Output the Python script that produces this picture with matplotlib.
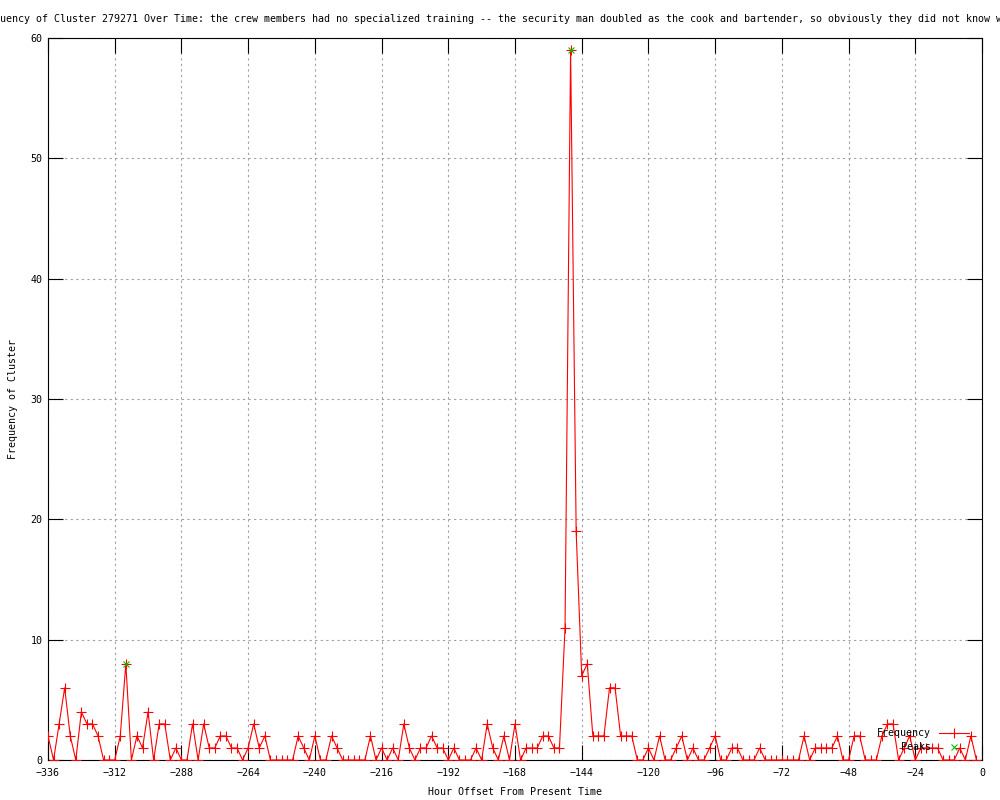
import matplotlib
matplotlib.use("Agg")
import matplotlib.pyplot as plt

hours = list(range(-336, 0, 2))
freq = [2, 0, 3, 6, 2, 0, 4, 3, 3, 2, 0, 0, 0, 2, 8, 0, 2, 1, 4, 0,
        3, 3, 0, 1, 0, 0, 3, 0, 3, 1, 1, 2, 2, 1, 1, 0, 1, 3, 1, 2,
        0, 0, 0, 0, 0, 2, 1, 0, 2, 0, 0, 2, 1, 0, 0, 0, 0, 0, 2, 0,
        1, 0, 1, 0, 3, 1, 0, 1, 1, 2, 1, 1, 0, 1, 0, 0, 0, 1, 0, 3,
        1, 0, 2, 0, 3, 0, 1, 1, 1, 2, 2, 1, 1, 11, 59, 19, 7, 8, 2, 2,
        2, 6, 6, 2, 2, 2, 0, 0, 1, 0, 2, 0, 0, 1, 2, 0, 1, 0, 0, 1,
        2, 0, 0, 1, 1, 0, 0, 0, 1, 0, 0, 0, 0, 0, 0, 0, 2, 0, 1, 1,
        1, 1, 2, 0, 0, 2, 2, 0, 0, 0, 2, 3, 3, 0, 1, 2, 0, 1, 1, 1,
        1, 0, 0, 0, 1, 0, 2, 0]
peak_hours = [-308, -148]
peak_vals = [8, 59]
xticks = list(range(-336, 1, 24))
yticks = list(range(0, 61, 10))

title = ("Frequency of Cluster 279271 Over Time: the crew members had no specialized "
         "training -- the security man doubled as the cook and bartender, so obviously "
         "they did not know what")

FONT = "DejaVu Sans Mono"
FS = 7.2
plt.rcParams['font.family'] = FONT
plt.rcParams['font.size'] = FS

fig = plt.figure(figsize=(10, 8), dpi=100)
ax = fig.add_axes([0.048, 0.05, 0.934, 0.9025])

ax.plot(hours, freq, color="#ff0000", lw=0.8, marker="+", ms=6.5, mew=0.8,
        label="Frequency", zorder=3)
ax.plot(peak_hours, peak_vals, ls="none", color="#00c000", marker="x", ms=5,
        mew=0.8, label="    Peaks", zorder=4)

ax.set_xlim(-336, 0)
ax.set_ylim(0, 60)
ax.set_xticks(xticks)
ax.set_yticks(yticks)
ax.tick_params(direction="in", length=11, width=0.8, top=True, right=True,
               labelsize=FS, colors="black")
ax.tick_params(axis="x", pad=6)
ax.tick_params(axis="y", pad=4)
ax.grid(True, color="#a0a0a0", ls=(0, (2, 3)), lw=0.8)
for s in ax.spines.values():
    s.set_linewidth(0.8)
    s.set_color("black")

ax.set_xlabel("Hour Offset From Present Time", fontsize=FS, labelpad=6)
ax.set_ylabel("Frequency of Cluster", fontsize=FS, labelpad=9)

fig.text(-24 / 1000, 1 - 19 / 800, title, ha="left", va="center", fontsize=FS)

leg = ax.legend(loc="lower right", bbox_to_anchor=(0.995, 0.0), frameon=False,
                markerfirst=False, handlelength=3.0, handletextpad=0.8,
                labelspacing=0.35, borderpad=0.3, fontsize=FS)

fig.savefig("out.png", dpi=100)
